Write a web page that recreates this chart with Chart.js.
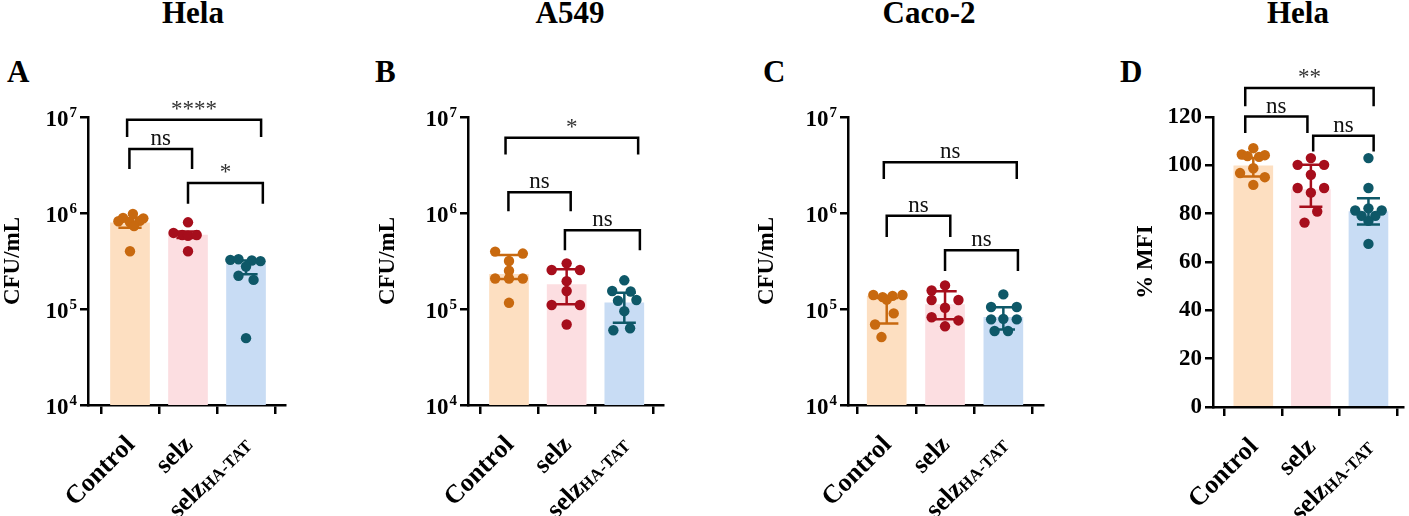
<!DOCTYPE html>
<html>
<head>
<meta charset="utf-8">
<script src="https://cdn.jsdelivr.net/npm/chart.js@4.4.1/dist/chart.umd.min.js"></script>
<style>
  body { margin: 0; background: #fff; }
  #wrap { position: relative; width: 1409px; height: 516px; overflow: hidden; background: #fff; }
  canvas { position: absolute; top: 0; }
  .title, .letter {
    position: absolute;
    font-family: 'Liberation Serif', 'Times New Roman', serif;
    font-weight: bold; font-size: 31px; line-height: 30px; color: #000;
  }
  .title { width: 200px; text-align: center; top: -2px; }
  .letter { top: 57px; }
</style>
</head>
<body>
<div id="wrap">
  <div class="title" style="left:93px">Hela</div>
  <div class="title" style="left:470px">A549</div>
  <div class="title" style="left:829px">Caco-2</div>
  <div class="title" style="left:1198px">Hela</div>
  <div class="letter" style="left:7px">A</div>
  <div class="letter" style="left:375px">B</div>
  <div class="letter" style="left:763px">C</div>
  <div class="letter" style="left:1120px">D</div>
  <canvas id="chartA" width="300" height="516" style="left:0px"></canvas>
  <canvas id="chartB" width="320" height="516" style="left:360px"></canvas>
  <canvas id="chartC" width="320" height="516" style="left:740px"></canvas>
  <canvas id="chartD" width="299" height="516" style="left:1110px"></canvas>
</div>
<script>
// groups on the x axis
const categories = ['Control', 'selz', 'selzHA-TAT'];
const logTicks = [1e4, 1e5, 1e6, 1e7];
const logTickExp = ['4', '5', '6', '7'];
const mfiTicks = [0, 20, 40, 60, 80, 100, 120];

// A - Hela CFU/mL
const aBars = [7.9e5, 5.9e5, 2.95e5];
const aErrLow = [7.0e5, 5.5e5, 2.3e5];
const aErrHigh = [8.8e5, 6.4e5, 3.2e5];
const aControl = [9.8e5, 8.9e5, 8.8e5, 8.3e5, 8.2e5, 8.0e5, 7.3e5, 4.0e5];
const aControlJit = [0.05, -0.12, 0.23, 0.17, -0.2, 0.0, 0.07, 0.0];
const aSelz = [8.0e5, 6.2e5, 5.9e5, 5.8e5, 5.9e5, 4.0e5];
const aSelzJit = [0.0, -0.25, -0.1, 0.0, 0.15, 0.0];
const aSelzHA = [3.25e5, 3.3e5, 3.2e5, 3.15e5, 2.77e5, 2.22e5, 2.01e5, 4.97e4];
const aSelzHAJit = [-0.27, -0.13, 0.1, 0.25, 0.0, -0.13, 0.13, 0.0];
const aBrackets = [
  // [from, to, top, drop, label]
  [-0.05, 2.26, 9.38e6, 6.18e6, '****'],
  [-0.01, 1.07, 4.63e6, 2.87e6, 'ns'],
  [1.0, 2.29, 2.05e6, 1.25e6, '*']
];

// B - A549 CFU/mL
const bBars = [2.3e5, 1.8e5, 1.16e5];
const bErrLow = [2.05e5, 1.12e5, 7.2e4];
const bErrHigh = [3.66e5, 2.6e5, 1.48e5];
const bControl = [3.96e5, 3.78e5, 3.16e5, 2.5e5, 2.08e5, 2.08e5, 2.08e5, 1.16e5];
const bControlJit = [-0.24, 0.24, 0.0, 0.0, -0.24, 0.0, 0.24, 0.0];
const bSelz = [2.99e5, 2.55e5, 2.55e5, 1.95e5, 1.54e5, 1.10e5, 1.10e5, 6.9e4];
const bSelzJit = [0.0, -0.26, 0.23, 0.0, 0.0, -0.26, 0.23, 0.0];
const bSelzHA = [1.99e5, 1.54e5, 1.52e5, 1.24e5, 1.22e5, 9.5e4, 6.3e4, 6.0e4];
const bSelzHAJit = [0.0, -0.21, 0.11, 0.21, -0.11, 0.0, 0.1, -0.19];
const bBrackets = [
  [-0.06, 2.24, 6.08e6, 4.06e6, '*'],
  [-0.01, 1.07, 1.64e6, 1.04e6, 'ns'],
  [0.97, 2.27, 6.62e5, 4.09e5, 'ns']
];

// C - Caco-2 CFU/mL
const cBars = [1.36e5, 1.11e5, 8.2e4];
const cErrLow = [7.05e4, 7.8e4, 6.1e4];
const cErrHigh = [1.3e5, 1.53e5, 1.04e5];
const cControl = [1.40e5, 1.33e5, 1.37e5, 1.40e5, 1.25e5, 9.0e4, 6.9e4, 5.1e4];
const cControlJit = [-0.23, -0.07, 0.1, 0.27, 0.0, 0.12, -0.2, -0.09];
const cSelz = [1.76e5, 1.56e5, 1.24e5, 1.24e5, 1.03e5, 8.2e4, 7.6e4, 6.6e4];
const cSelzJit = [0.0, -0.23, -0.23, 0.23, 0.0, -0.23, 0.23, 0.0];
const cSelzHA = [1.42e5, 1.05e5, 1.05e5, 7.9e4, 7.8e4, 7.8e4, 5.9e4, 5.9e4];
const cSelzHAJit = [0.0, -0.21, 0.23, 0.0, -0.21, 0.23, -0.15, 0.08];
const cBrackets = [
  [-0.05, 2.23, 3.38e6, 2.26e6, 'ns'],
  [0.0, 1.09, 9.35e5, 5.64e5, 'ns'],
  [1.0, 2.25, 4.09e5, 2.49e5, 'ns']
];

// D - Hela % MFI
const dBars = [99.8, 90.0, 80.9];
const dErrLow = [95.4, 82.9, 75.5];
const dErrHigh = [103.0, 100.2, 86.4];
const dControl = [107.1, 104.5, 103.8, 103.5, 104.2, 98.8, 96.8, 95.1, 91.9];
const dControlJit = [0.0, -0.2, -0.1, 0.1, 0.2, 0.0, -0.23, 0.2, 0.0];
const dSelz = [103.0, 100.2, 100.2, 96.1, 90.6, 90.6, 88.7, 80.9, 76.3];
const dSelzJit = [0.0, -0.23, 0.23, 0.0, -0.23, 0.23, 0.0, 0.11, -0.11];
const dSelzHA = [103.0, 90.6, 82.2, 81.3, 81.3, 79.1, 79.1, 77.0, 67.5];
const dSelzHAJit = [0.0, 0.0, 0.0, -0.23, 0.23, -0.12, 0.12, 0.0, 0.0];
const dBrackets = [
  [-0.14, 2.09, 132, 124.4, '**'],
  [-0.14, 0.94, 120.2, 113.4, 'ns'],
  [1.04, 2.09, 112.2, 105.7, 'ns']
];

const SERIF = "'Liberation Serif', 'Times New Roman', serif";
const dotColors = ['#C8690F', '#A60E1C', '#0E5868'];
const barColors = ['#FDDFC1', '#FCDEE1', '#C8DCF4'];

function buildPanel(id, p) {
  const ctx = document.getElementById(id).getContext('2d');

  const datasets = [{
    type: 'bar',
    data: p.bars.map((v, i) => ({ x: i, y: v })),
    backgroundColor: barColors,
    borderWidth: 0,
    barThickness: 39,
    order: 2
  }];
  p.points.forEach((vals, i) => {
    datasets.push({
      type: 'scatter',
      data: vals.map((v, j) => ({ x: i + p.jitter[i][j], y: v })),
      backgroundColor: dotColors[i],
      borderWidth: 0,
      pointRadius: 5.2,
      pointHoverRadius: 5.2,
      order: 1
    });
  });

  // log panels get their 10^n labels drawn below, so the built-in ones are hidden
  const yScale = p.log ? {
    type: 'logarithmic', min: 1e4, max: 1e7,
    afterBuildTicks: s => { s.ticks = logTicks.map(v => ({ value: v })); },
    ticks: { display: false }
  } : {
    type: 'linear', min: 0, max: 120,
    afterBuildTicks: s => { s.ticks = mfiTicks.map(v => ({ value: v })); },
    ticks: { font: { family: SERIF, size: 23, weight: 'bold' }, color: '#000', padding: 3 }
  };
  Object.assign(yScale, {
    grid: { drawOnChartArea: false, drawTicks: true, tickLength: 8, lineWidth: 2.5, color: '#000' },
    border: { display: true, width: 2.5, color: '#000' },
    title: { display: true, text: p.yTitle, color: '#000', font: { family: SERIF, size: 23, weight: 'bold' }, padding: { top: p.titlePad, bottom: 0 } },
    afterFit: s => { s.width = p.yw; }
  });

  const overlay = {
    id: 'overlay',
    afterDatasetDraw(chart, args) {
      if (args.index !== 0) return;
      const xs = chart.scales.x, ys = chart.scales.y, c = chart.ctx;
      c.save();
      c.lineWidth = 2.5;
      p.bars.forEach((v, i) => {
        const x = xs.getPixelForValue(i);
        const half = xs.getPixelForValue(i + 0.2) - x;
        const lo = ys.getPixelForValue(p.errLow[i]);
        const hi = ys.getPixelForValue(p.errHigh[i]);
        c.strokeStyle = dotColors[i];
        c.beginPath();
        c.moveTo(x, lo); c.lineTo(x, hi);
        c.moveTo(x - half, lo); c.lineTo(x + half, lo);
        c.moveTo(x - half, hi); c.lineTo(x + half, hi);
        c.stroke();
      });
      c.restore();
    },
    afterDraw(chart) {
      const xs = chart.scales.x, ys = chart.scales.y, c = chart.ctx;
      c.save();
      // 10^n tick labels
      if (p.log) {
        const right = chart.chartArea.left - 8 - 3;
        logTicks.forEach((v, i) => {
          const y = ys.getPixelForValue(v);
          c.fillStyle = '#000';
          c.textBaseline = 'middle';
          c.font = 'bold 15px ' + SERIF;
          const we = c.measureText(logTickExp[i]).width;
          c.textAlign = 'left';
          c.fillText(logTickExp[i], right - we, y - 4);
          c.font = 'bold 23px ' + SERIF;
          c.textAlign = 'right';
          c.fillText('10', right - we - 1, y + 3);
        });
      }
      // significance brackets
      c.lineWidth = 2.5;
      c.strokeStyle = '#000';
      p.brackets.forEach(b => {
        const x1 = xs.getPixelForValue(b[0]);
        const x2 = xs.getPixelForValue(b[1]);
        const yt = ys.getPixelForValue(b[2]);
        const yd = ys.getPixelForValue(b[3]);
        c.beginPath();
        c.moveTo(x1, yd); c.lineTo(x1, yt); c.lineTo(x2, yt); c.lineTo(x2, yd);
        c.stroke();
        c.textAlign = 'center';
        c.textBaseline = 'alphabetic';
        c.font = '23px ' + SERIF;
        c.fillStyle = b[4] === 'ns' ? '#111' : '#333';
        c.fillText(b[4], (x1 + x2) / 2, yt - 4);
      });
      // rotated category labels, subscript on the last one
      const base = chart.chartArea.bottom;
      categories.forEach((name, i) => {
        const x = xs.getPixelForValue(i);
        c.save();
        c.translate(x + 1, base + 36);
        c.rotate(-Math.PI / 4);
        c.fillStyle = '#000';
        c.textBaseline = 'middle';
        c.textAlign = 'left';
        const main = name.startsWith('selzHA') ? 'selz' : name;
        const sub = name.startsWith('selzHA') ? 'HA-TAT' : '';
        c.font = 'bold 26px ' + SERIF;
        const wMain = c.measureText(main).width;
        c.font = 'bold 17px ' + SERIF;
        const wSub = sub ? c.measureText(sub).width : 0;
        const start = -(wMain + wSub);
        c.font = 'bold 26px ' + SERIF;
        c.fillText(main, start, 0);
        if (sub) {
          c.font = 'bold 17px ' + SERIF;
          c.fillText(sub, start + wMain, 4);
        }
        c.restore();
      });
      c.restore();
    }
  };

  return new Chart(ctx, {
    type: 'bar',
    data: { datasets: datasets },
    options: {
      responsive: false,
      animation: false,
      layout: { padding: { top: 117, left: 0, right: p.padRight, bottom: 0 } },
      plugins: { legend: { display: false }, tooltip: { enabled: false } },
      scales: {
        x: {
          type: 'linear', min: p.xMin, max: p.xMax, offset: false,
          ticks: { display: false, stepSize: 1, includeBounds: false },
          grid: { display: true, drawOnChartArea: false, drawTicks: true, tickLength: 9, lineWidth: 2.5, color: '#000' },
          border: { display: true, width: 2.5, color: '#000' },
          afterFit: s => { s.height = 516 - p.bottom; }
        },
        y: yScale
      }
    },
    plugins: [overlay]
  });
}

buildPanel('chartA', {
  log: true, yTitle: 'CFU/mL', titlePad: -1, yw: 88, padRight: 15, bottom: 405,
  xMin: -0.724, xMax: 2.672,
  bars: aBars, errLow: aErrLow, errHigh: aErrHigh,
  points: [aControl, aSelz, aSelzHA], jitter: [aControlJit, aSelzJit, aSelzHAJit],
  brackets: aBrackets
});
buildPanel('chartB', {
  log: true, yTitle: 'CFU/mL', titlePad: 14, yw: 108, padRight: 17, bottom: 405,
  xMin: -0.711, xMax: 2.671,
  bars: bBars, errLow: bErrLow, errHigh: bErrHigh,
  points: [bControl, bSelz, bSelzHA], jitter: [bControlJit, bSelzJit, bSelzHAJit],
  brackets: bBrackets
});
buildPanel('chartC', {
  log: true, yTitle: 'CFU/mL', titlePad: 13, yw: 108, padRight: 17, bottom: 405,
  xMin: -0.664, xMax: 2.68,
  bars: cBars, errLow: cErrLow, errHigh: cErrHigh,
  points: [cControl, cSelz, cSelzHA], jitter: [cControlJit, cSelzJit, cSelzHAJit],
  brackets: cBrackets
});
buildPanel('chartD', {
  log: false, yTitle: '% MFI', titlePad: 22, yw: 103, padRight: 6, bottom: 407,
  xMin: -0.70, xMax: 2.60,
  bars: dBars, errLow: dErrLow, errHigh: dErrHigh,
  points: [dControl, dSelz, dSelzHA], jitter: [dControlJit, dSelzJit, dSelzHAJit],
  brackets: dBrackets
});
</script>
</body>
</html>
